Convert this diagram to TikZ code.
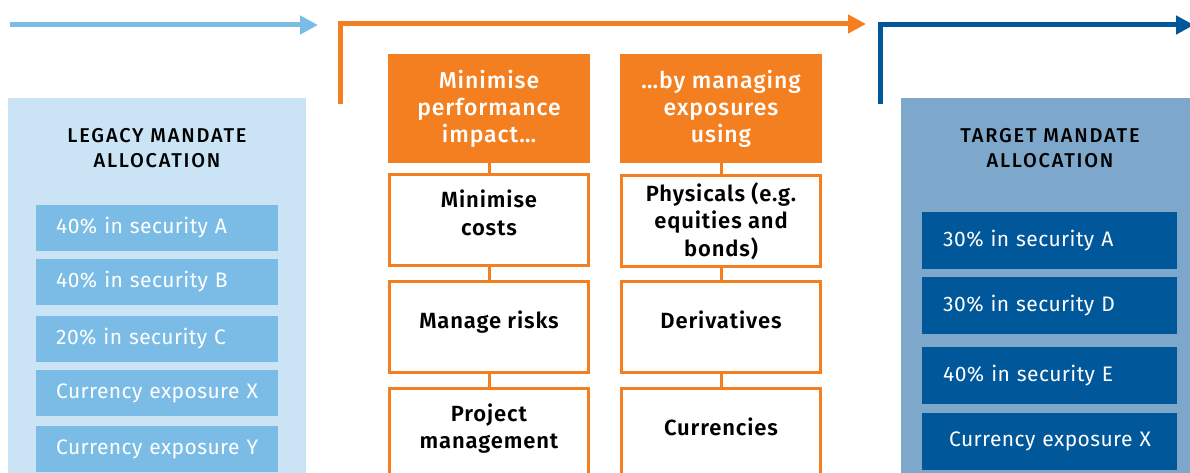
\documentclass[tikz,border=0pt]{standalone}
\usepackage{fontspec}
\setmainfont{Fira Sans}[LetterSpace=2]
\newfontfamily\medfont{Fira Sans Medium}[LetterSpace=4]
\newfontfamily\capsfont{Fira Sans Medium}[LetterSpace=9]
\newfontfamily\boldfont{Fira Sans SemiBold}[LetterSpace=4]
\usetikzlibrary{arrows.meta}

\definecolor{skyblue}{RGB}{123,188,230}
\definecolor{paleblue}{RGB}{202,228,245}
\definecolor{navyblue}{RGB}{0,87,154}
\definecolor{steelblue}{RGB}{126,168,203}
\definecolor{mandarin}{RGB}{244,127,32}

\begin{document}
\begin{tikzpicture}[x=1pt,y=-1pt,
  panel/.style={anchor=north west,inner sep=0pt,outer sep=0pt},
  title/.style={align=center,font=\capsfont\fontsize{20}{25}\selectfont},
  holding/.style={anchor=west,text=white,align=left,inner xsep=20pt,inner ysep=0pt,
    font=\fontsize{21}{22}\selectfont},
  headbox/.style={fill=mandarin,text=white,align=center,minimum width=202pt,minimum height=109pt,
    inner sep=0pt,font=\medfont\fontsize{23}{27}\selectfont},
  stepbox/.style={draw=mandarin,line width=3pt,fill=white,align=center,minimum width=199pt,
    minimum height=91pt,inner sep=0pt,font=\boldfont\fontsize{22}{27.5}\selectfont},
  link/.style={draw=mandarin,line width=3pt}]
\useasboundingbox (0,0) rectangle (1190,473);

% flow arrows along the top
\draw[skyblue,line width=5pt,-{Triangle[length=18pt,width=18pt]}] (10,25) -- (318,25);
\coordinate (orange0) at (340,104);
\coordinate (orange1) at (340,24);
\coordinate (orange2) at (866,24);
\draw[mandarin,line width=5pt,-{Triangle[length=18pt,width=18pt]}] (orange0) -- (orange1) -- (orange2);
\coordinate (navy0) at (880,104);
\coordinate (navy1) at (880,25);
\coordinate (navy2) at (1194,25);
\draw[navyblue,line width=5pt,-{Triangle[length=18pt,width=18pt]}] (navy0) -- (navy1) -- (navy2);

% legacy allocation
\node (legacy) [panel,fill=paleblue,minimum width=298pt,minimum height=390pt] at (8,98) {};
\node (legacyT) [title] at (157,148) {LEGACY MANDATE\\ALLOCATION};
\foreach \yc/\txt [count=\i] in {228/40\% in security A,282/40\% in security B,339/20\% in security C,
    393/Currency exposure X,449/Currency exposure Y}
  \node (old\i) [holding,fill=skyblue,minimum height=46pt,text width=202pt] at (36,\yc) {\txt};

% target allocation
\node (target) [panel,fill=steelblue,minimum width=300pt,minimum height=390pt] at (901,98) {};
\node (targetT) [title] at (1050,148) {TARGET MANDATE\\ALLOCATION};
\foreach \yc/\txt [count=\i] in {240.5/30\% in security A,305.5/30\% in security D,375.5/40\% in security E,
    441.5/\hspace{6pt}Currency exposure X}
  \node (new\i) [holding,fill=navyblue,minimum height=57pt,text width=213pt,inner xsep=21pt] at (922,\yc) {\txt};

% the two columns in the middle
\node (aim) [headbox] at (489,108.5) {Minimise\\performance\\impact\dots};
\node (how) [headbox] at (721,108.5) {\dots by managing\\exposures\\using};

\node (aim1) [stepbox] at (489,220) {Minimise\\costs\\[-13pt]\mbox{}};
\node (aim2) [stepbox] at (489,326.5) {Manage risks\\[-13pt]\mbox{}};
\node (aim3) [stepbox] at (489,433.5) {Project\\management\\[-13pt]\mbox{}};
\node (how1) [stepbox] at (721,221) {Physicals (e.g.\\equities and\\bonds)};
\node (how2) [stepbox] at (721,326.5) {Derivatives\\[-13pt]\mbox{}};
\node (how3) [stepbox] at (721,433.5) {Currencies\\[-13pt]\mbox{}};

\draw[link] (aim.south) -- (aim1.north);
\draw[link] (aim1.south) -- (aim2.north);
\draw[link] (aim2.south) -- (aim3.north);
\draw[link] (how.south) -- (how1.north);
\draw[link] (how1.south) -- (how2.north);
\draw[link] (how2.south) -- (how3.north);

\end{tikzpicture}
\end{document}
